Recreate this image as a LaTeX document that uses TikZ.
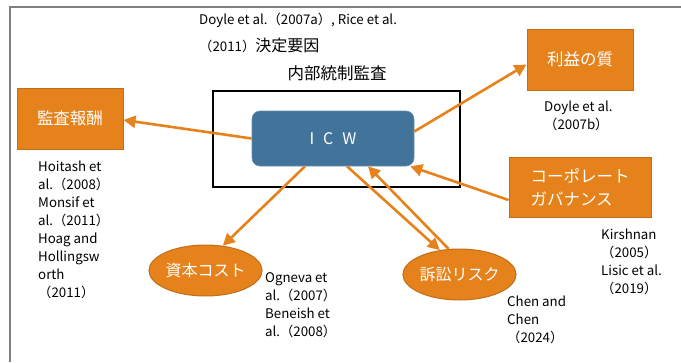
\documentclass[tikz,border=0pt]{standalone}
\usepackage{fontspec}
\setmainfont{Noto Sans CJK JP}
\usetikzlibrary{arrows.meta,shapes.geometric}
\definecolor{org}{HTML}{E6821C}
\definecolor{orgd}{HTML}{C06F18}
\definecolor{icwc}{HTML}{41739B}
\definecolor{frame}{HTML}{808080}
\begin{document}
\begin{tikzpicture}[x=1pt,y=-1pt,
  obox/.style={draw=orgd, line width=1pt, fill=org, text=white, inner sep=0pt,
    font=\fontsize{16.5}{23}\selectfont},
  oval/.style={ellipse, draw=orgd, line width=1pt, fill=org, text=white, inner sep=0pt,
    minimum width=109pt, minimum height=51pt, font=\fontsize{16}{20}\selectfont},
  arr/.style={draw=org, line width=2.6pt, -{Triangle[length=12pt,width=12pt]}},
  reftxt/.style={font=\fontsize{13.3}{18}\selectfont, align=left, anchor=north west, inner sep=0pt},
  lbl/.style={inner sep=0pt}]
\useasboundingbox (0,0) rectangle (681,362);
% outer frame (cropped)
\draw[frame, line width=1.5pt] (681,7) -- (10,7) -- (10,362);
% audit rectangle
\draw[black, line width=1.5pt] (213,91) rectangle (460,187);
% titles
\node[lbl, anchor=west, font=\fontsize{13.3}{16}\selectfont] (t1) at (199,20) {Doyle et al.（2007a）, Rice et al.};
\node[lbl, anchor=west] (t2) at (199,45) {{\fontsize{13.3}{16}\selectfont（2011）}{\fontsize{16}{18}\selectfont 決定要因}};
\node[lbl, font=\fontsize{16.5}{20}\selectfont] (t3) at (337,73.5) {内部統制監査};
% ICW
\node[draw=icwc!80!white, line width=0.6pt, fill=icwc, rounded corners=8pt, text=white,
  minimum width=162pt, minimum height=55pt, inner sep=0pt, font=\fontsize{16}{20}\selectfont]
  (icw) at (333,138.5) {I\hspace{9pt}C\hspace{9pt}W};
% boxes
\node[obox, minimum width=106pt, minimum height=61pt] (fee) at (70,118.5) {監査報酬};
\node[obox, minimum width=106pt, minimum height=61pt] (qual) at (580,59.5) {利益の質};
\node[obox, minimum width=142pt, minimum height=60pt, align=left] (gov) at (580,187) {コーポレート\\ガバナンス};
% ellipses
\node[oval] (cost) at (205.5,270.5) {資本コスト};
\node[oval] (lit) at (459.5,274.5) {訴訟リスク};
% arrows
\draw[arr] (icw.west) -- ([yshift=-1.5pt]fee.east);
\draw[arr] ([yshift=7pt]icw.east) -- ([yshift=-5pt]qual.west);
\draw[arr] ([yshift=-13pt]gov.west) -- ([xshift=-4pt]icw.south east);
\draw[arr] ([xshift=-28pt]icw.south) -- (cost.55);
\draw[arr] ([xshift=14pt]icw.south) -- (lit.129);
\draw[arr] (lit.113) -- ([xshift=35pt]icw.south);
% references
\node[reftxt] (r1) at (544,100.5) {Doyle et al.\\（2007b）};
\node[reftxt] (r2) at (38,160.5) {Hoitash et\\al.（2008）\\Monsif et\\al.（2011）\\Hoag and\\Hollingsw\\orth\\（2011）};
\node[reftxt] (r3) at (265,272.5) {Ogneva et\\al.（2007）\\Beneish et\\al.（2008）};
\node[reftxt] (r4) at (507,295.5) {Chen and\\Chen\\（2024）};
\node[reftxt] (r5) at (601,228.5) {Kirshnan\\（2005）\\Lisic et al.\\（2019）};
\end{tikzpicture}
\end{document}
